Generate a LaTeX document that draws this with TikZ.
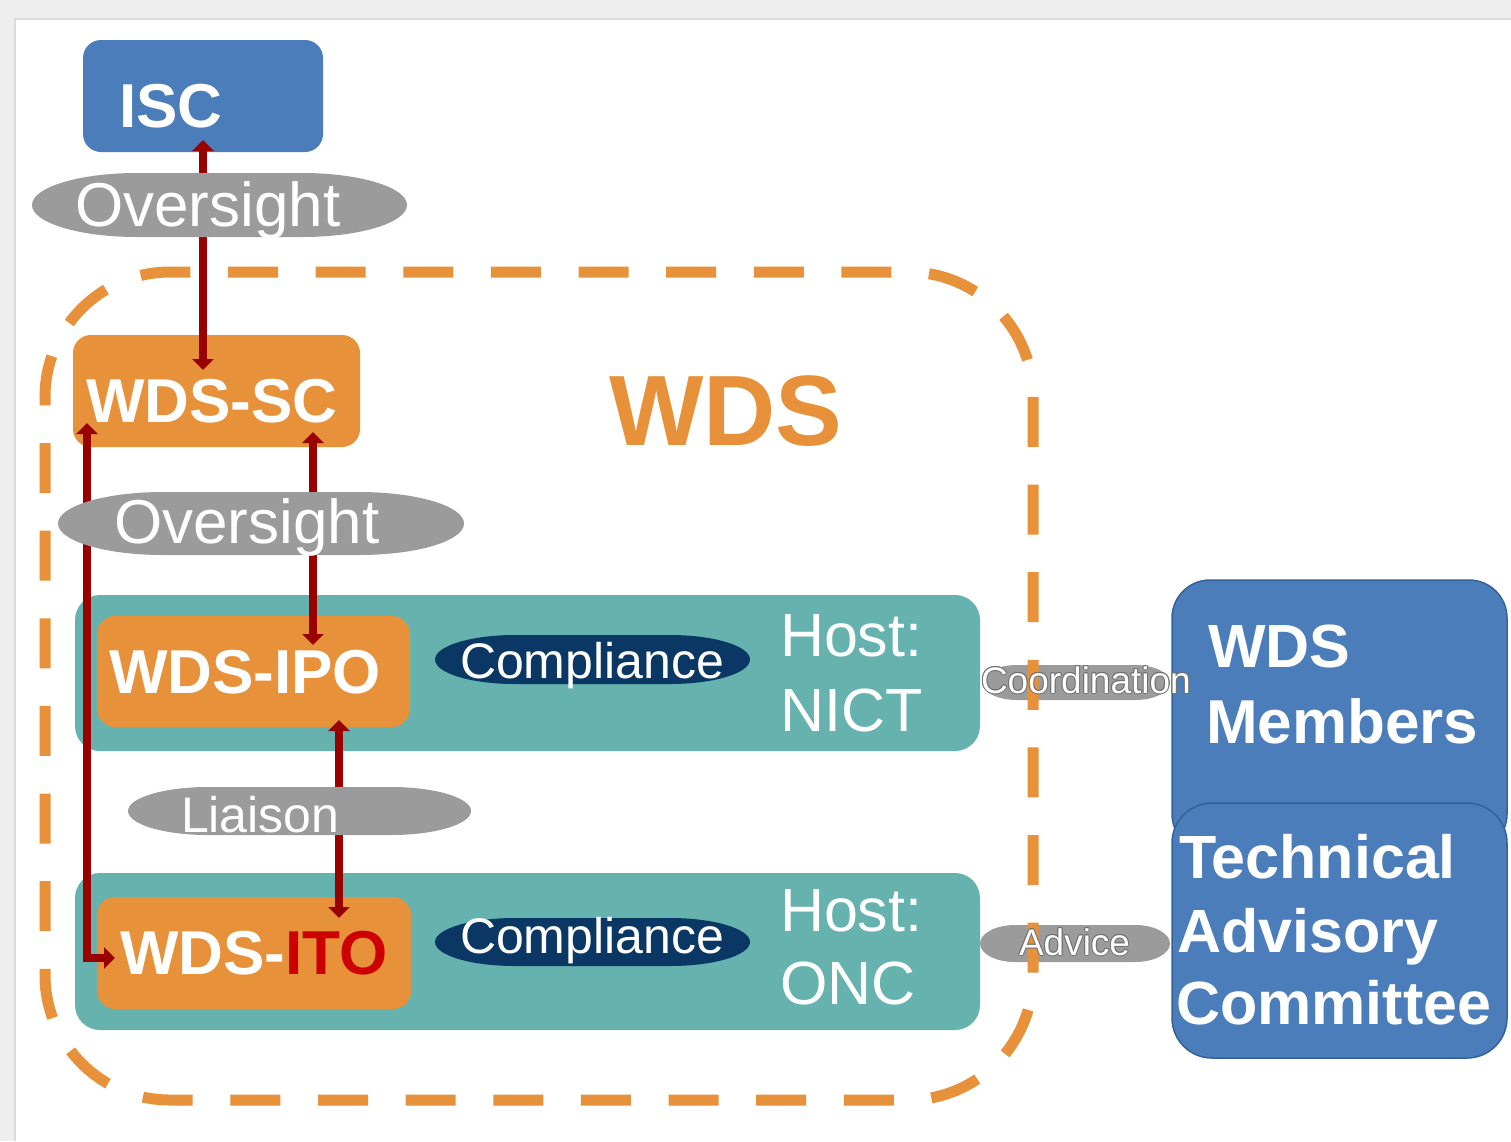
\documentclass[tikz,border=0pt]{standalone}
\usepackage{fontspec}
\setmainfont{Liberation Sans}
\usetikzlibrary{arrows.meta,calc}
\definecolor{wblue}{HTML}{4A7DB9}
\definecolor{wblueline}{HTML}{35619A}
\definecolor{worange}{HTML}{E7913A}
\definecolor{wteal}{HTML}{65B2AE}
\definecolor{wgray}{HTML}{9B9B9B}
\definecolor{wnavy}{HTML}{0A3764}
\definecolor{wred}{HTML}{990000}
\definecolor{itored}{HTML}{CC0000}
\definecolor{framegray}{HTML}{EEEEEE}
\definecolor{frameline}{HTML}{DADADA}
\definecolor{halo}{HTML}{707070}
\newcommand\wdsbold[1]{\fontsize{#1}{#1}\selectfont\bfseries}
\newcommand\wdsreg[1]{\fontsize{#1}{#1}\selectfont}
% capsule: cx, cy, w, h, rx, colour
\newcommand\capsule[6]{%
  \fill[#6] ({#1-#3/2+#5},{#2-#4/2}) -- ({#1+#3/2-#5},{#2-#4/2})
    .. controls ({#1+#3/2-#5+0.5523*#5},{#2-#4/2}) and ({#1+#3/2},{#2-0.5523*#4/2}) .. ({#1+#3/2},{#2})
    .. controls ({#1+#3/2},{#2+0.5523*#4/2}) and ({#1+#3/2-#5+0.5523*#5},{#2+#4/2}) .. ({#1+#3/2-#5},{#2+#4/2})
    -- ({#1-#3/2+#5},{#2+#4/2})
    .. controls ({#1-#3/2+#5-0.5523*#5},{#2+#4/2}) and ({#1-#3/2},{#2+0.5523*#4/2}) .. ({#1-#3/2},{#2})
    .. controls ({#1-#3/2},{#2-0.5523*#4/2}) and ({#1-#3/2+#5-0.5523*#5},{#2-#4/2}) .. ({#1-#3/2+#5},{#2-#4/2}) -- cycle;}
% halo label: name, x, y, size, text
\newcommand\halolabel[5]{%
  \foreach \hx/\hy [count=\hi] in {-1/0,1/0,0/-1,0/1,-0.7/-0.7,0.7/0.7,-0.7/0.7,0.7/-0.7}{%
    \node[lbl, text=halo, font={\wdsreg{#4}}] (#1h\hi) at ({#2+\hx},{#3+\hy}) {#5};}
  \node[lbl, font={\wdsreg{#4}}] (#1) at (#2,#3) {#5};}
\begin{document}
\begin{tikzpicture}[x=1pt,y=-1pt,
  box/.style={inner sep=0pt, outer sep=0pt, rounded corners=#1},
  lbl/.style={anchor=base west, inner sep=0pt, outer sep=0pt, text=white},
  conn/.style={wred, line width=8pt,
    {Triangle[width=21pt,length=11pt]}-{Triangle[width=21pt,length=11pt]}},
  dashedframe/.style={worange, line width=11pt, dash pattern=on 50pt off 37.63pt, rounded corners=125pt}
]
\useasboundingbox (0,0) rectangle (1511,1141);
% frame
\fill[framegray] (0,0) rectangle (1511,1141);
\fill[white] (15,19) rectangle (1511,1141);
\draw[frameline, line width=2pt] (15,1141) -- (15,19) -- (1511,19);

% side capsules (under the dashed frame)
\capsule{1076}{682.5}{188}{35}{35}{wgray}
\capsule{1075}{943.5}{190}{37}{35}{wgray}

% dashed WDS frame
\draw[dashedframe] (228,272) -- (1033,272) -- (1033,1100) -- (45,1100) -- (45,272) -- (228,272);

% boxes
\node[box=18pt, fill=wblue, minimum width=240pt, minimum height=112pt] (isc) at (203,96) {};
\node[box=18pt, fill=worange, minimum width=287pt, minimum height=112pt] (sc) at (216.5,391) {};
\node[box=25pt, fill=wteal, minimum width=905pt, minimum height=156pt] (teal1) at (527.5,673) {};
\node[box=18pt, fill=worange, minimum width=313pt, minimum height=111pt] (ipo) at (253.5,671.5) {};
\node[box=25pt, fill=wteal, minimum width=905pt, minimum height=157pt] (teal2) at (527.5,951.5) {};
\node[box=18pt, fill=worange, minimum width=314pt, minimum height=112pt] (ito) at (254,953) {};
\node[box=38pt, fill=wblue, draw=wblueline, line width=1.5pt, minimum width=335pt, minimum height=272pt] (mem) at (1339.5,716) {};
\node[box=40pt, fill=wblue, draw=wblueline, line width=1.5pt, minimum width=335pt, minimum height=255pt] (tac) at (1339.5,930.5) {};

% connectors
\draw[conn] ($(isc.south)+(0,-12)$) -- ($(isc.south |- sc.north)+(0,35)$);
\draw[conn] ($(sc.south west)+(240,-15)$) -- ($(ipo.north west)+(216,29)$);
\draw[conn] ($(ipo.south west)+(242,-7)$) -- ($(ito.north west)+(242,21)$);
\draw[conn] ($(sc.south west)+(14,-24)$) |- ($(ito.west)+(18,5)$);

% label capsules
\capsule{219.5}{205}{375}{64}{105}{wgray}
\capsule{261}{523.5}{406}{63}{105}{wgray}
\capsule{299.5}{811}{343}{48}{80}{wgray}
\capsule{592.5}{659.5}{315}{49}{80}{wnavy}
\capsule{592.5}{942}{315}{48}{80}{wnavy}

% texts
\node[lbl, font={\wdsbold{62}}] (isct) at (119,127) {ISC};
\node[lbl, font={\wdsreg{62}}] (ov1) at (75,226) {Oversight};
\node[lbl, font={\wdsbold{62}}] (sct) at (86,422) {WDS-SC};
\node[lbl, text=worange, font={\wdsbold{100}}] (wdst) at (609,445) {WDS};
\node[lbl, font={\wdsreg{62}}] (ov2) at (114,543) {Oversight};
\node[lbl, font={\wdsbold{62}}] (ipot) at (109,693) {WDS-IPO};
\node[lbl, font={\wdsreg{50}}] (comp1) at (460,678) {Compliance};
\node[lbl, font={\wdsreg{61}}] (host1) at (780,656) {Host:};
\node[lbl, font={\wdsreg{61}}] (nict) at (780,731) {NICT};
\node[lbl, font={\wdsreg{50}}] (liaison) at (181,832) {Liaison};
\node[lbl, font={\wdsbold{62}}] (itot) at (120,974) {WDS-\textcolor{itored}{ITO}};
\node[lbl, font={\wdsreg{50}}] (comp2) at (460,953) {Compliance};
\node[lbl, font={\wdsreg{61}}] (host2) at (780,931) {Host:};
\node[lbl, font={\wdsreg{61}}] (onc) at (780,1004) {ONC};
\halolabel{coord}{981}{693}{37}{Coordination}
\halolabel{advice}{1019}{955}{37}{Advice}
\node[lbl, font={\wdsbold{61}}] (memt1) at (1208,667) {WDS};
\node[lbl, font={\wdsbold{62}}] (memt2) at (1206,743) {Members};
\node[lbl, font={\wdsbold{61}}] (tac1) at (1179,878) {Technical};
\node[lbl, font={\wdsbold{61}}] (tac2) at (1177,952) {Advisory};
\node[lbl, font={\wdsbold{61}}] (tac3) at (1176,1024) {Committee};
\end{tikzpicture}
\end{document}
